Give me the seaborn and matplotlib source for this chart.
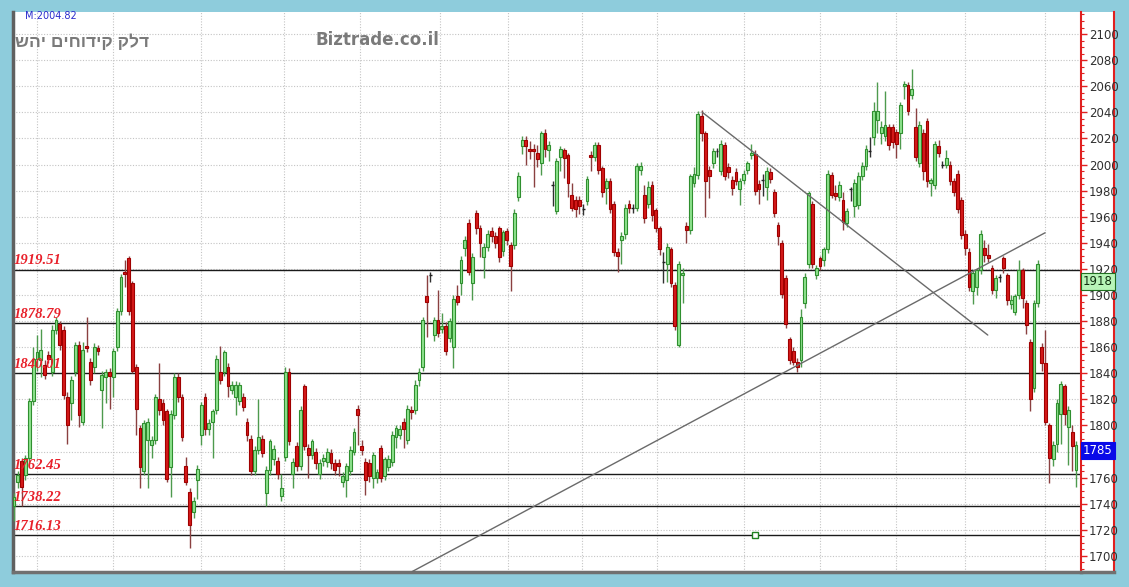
import numpy as np
import pandas as pd
import seaborn as sns
import matplotlib
matplotlib.use("Agg")
import matplotlib.pyplot as plt
from matplotlib.ticker import FixedFormatter
from matplotlib.transforms import blended_transform_factory, ScaledTranslation

# ---- daily candles (open, high, low, close) ----
opens = [1738,1757,1773,1762,1775,1819,1851,1850,1846,1854,1841,1873,1878,1873,1822,1817,1841,1862,1803,1861,
         1849,1845,1859,1827,1837,1841,1837,1860,1888,1918,1928,1909,1845,1798,1765,1789,1785,1789,1820,1817,
         1811,1768,1808,1837,1822,1769,1749,1734,1758,1793,1822,1797,1803,1812,1841,1841,1845,1827,1822,1819,
         1822,1803,1790,1765,1781,1790,1748,1766,1774,1773,1746,1776,1841,1763,1784,1769,1830,1783,1777,1780,
         1763,1773,1772,1779,1771,1771,1757,1758,1765,1780,1813,1784,1772,1771,1760,1760,1783,1761,1768,1772,
         1791,1793,1803,1789,1812,1812,1835,1845,1899,1915,1869,1881,1874,1876,1867,1860,1899,1909,1936,1955,
         1909,1963,1951,1929,1937,1949,1945,1951,1934,1949,1938,1938,1975,2014,2019,2012,2012,2009,2001,2024,
         2011,1984,1964,2006,2011,2007,1977,1973,1973,1966,1972,2007,2006,2015,1997,1982,1987,1970,1933,1942,
         1947,1970,1967,1967,1996,1977,1970,1984,1965,1951,1925,1924,1935,1908,1862,1915,1953,1950,1986,1992,
         2037,2024,1996,2001,2010,1995,2015,1998,1988,1994,1981,1988,1996,2007,2008,1985,1988,1983,1994,1979,
         1954,1940,1913,1866,1857,1849,1850,1894,1924,1970,1915,1928,1927,1935,1992,1978,1975,1973,1955,1981,
         1968,1969,1991,1999,2010,2021,2034,2024,2022,2029,2029,2025,2024,2060,2061,2053,2029,2001,2024,2033,
         1986,1984,2014,2000,2000,2000,1987,1993,1973,1947,1933,1903,1906,1919,1936,1931,1921,1904,1914,1928,
         1915,1893,1887,1900,1919,1894,1864,1829,1894,1860,1848,1800,1774,1786,1809,1830,1799,1795,1766]
highs = [1748,1765,1775,1777,1821,1860,1869,1874,1850,1857,1877,1883,1880,1876,1826,1838,1864,1865,1864,1883,
         1852,1863,1862,1842,1843,1844,1859,1890,1916,1927,1930,1911,1847,1800,1804,1806,1792,1824,1848,1820,
         1813,1812,1840,1840,1824,1776,1752,1745,1770,1818,1825,1805,1813,1854,1861,1858,1848,1834,1834,1833,
         1825,1806,1793,1784,1820,1793,1769,1790,1785,1776,1763,1845,1844,1775,1787,1815,1832,1786,1790,1783,
         1774,1778,1783,1782,1774,1774,1764,1771,1784,1798,1816,1789,1775,1774,1780,1767,1785,1776,1777,1796,
         1800,1800,1806,1816,1815,1835,1844,1883,1915,1918,1883,1904,1886,1879,1882,1900,1908,1930,1945,1958,
         1932,1965,1954,1940,1950,1952,1948,1953,1950,1951,1941,1966,1994,2022,2022,2018,2016,2015,2026,2027,
         2018,1987,2005,2014,2013,2009,1986,1976,1976,1970,1991,2010,2017,2017,1999,1990,1990,1972,1936,1948,
         1970,1973,1970,2001,2002,1984,1987,1987,1967,1953,1933,1940,1937,1910,1926,1921,1956,1993,1998,2041,
         2042,2026,1999,2013,2013,2019,2017,2001,1991,1997,1990,1996,2003,2016,2011,1988,1993,1998,1997,1981,
         1956,1942,1915,1868,1860,1852,1889,1917,1980,1972,1923,1930,1937,1996,1994,1984,1987,1979,1967,1983,
         1989,1994,2002,2015,2021,2048,2063,2033,2056,2031,2031,2027,2048,2064,2063,2073,2043,2033,2027,2036,
         1990,2018,2019,2003,2011,2003,1990,1996,1975,1950,1936,1919,1921,1950,1942,1939,1923,1915,1916,1930,
         1917,1900,1901,1927,1921,1896,1866,1896,1927,1863,1873,1802,1788,1820,1834,1832,1815,1800,1788]
lows = [1727,1752,1738,1758,1772,1816,1842,1837,1836,1848,1838,1870,1858,1820,1786,1804,1838,1799,1800,1856,
        1831,1840,1854,1798,1817,1813,1822,1857,1885,1906,1885,1840,1793,1752,1762,1752,1775,1786,1808,1800,
        1757,1745,1805,1818,1788,1754,1706,1729,1744,1785,1793,1793,1775,1809,1832,1838,1822,1824,1808,1816,
        1811,1788,1762,1762,1778,1776,1738,1762,1770,1759,1742,1773,1785,1752,1765,1766,1781,1760,1774,1767,
        1759,1769,1768,1767,1762,1761,1753,1745,1762,1777,1785,1777,1747,1757,1752,1756,1757,1758,1765,1769,
        1783,1790,1783,1786,1805,1809,1830,1842,1868,1910,1865,1868,1871,1854,1864,1844,1892,1900,1930,1915,
        1896,1947,1929,1913,1934,1941,1936,1925,1930,1938,1903,1935,1972,2008,2000,2004,1983,1998,1992,2006,
        2003,1968,1962,1995,1990,1975,1964,1960,1962,1961,1969,1995,2003,1993,1975,1970,1963,1930,1918,1924,
        1943,1963,1963,1964,1992,1955,1967,1957,1948,1931,1909,1910,1906,1873,1860,1894,1940,1947,1983,1989,
        2018,1960,1974,1997,2006,1992,1988,1990,1977,1984,1969,1985,1993,2004,1977,1970,1976,1973,1986,1960,
        1938,1898,1875,1847,1846,1841,1845,1890,1921,1921,1912,1919,1922,1932,1974,1973,1972,1950,1952,1972,
        1960,1966,1988,1996,2006,2015,2024,2016,2018,2011,2013,2005,2012,2050,2038,2050,2003,1998,1988,1983,
        1976,1981,2006,1997,1997,1984,1976,1963,1943,1931,1903,1893,1900,1916,1925,1925,1901,1898,1910,1917,
        1892,1889,1885,1897,1890,1870,1811,1826,1891,1842,1800,1756,1769,1780,1786,1800,1770,1765,1753]
closes = [1745,1762,1753,1775,1819,1851,1856,1858,1839,1851,1873,1881,1862,1823,1800,1835,1862,1808,1858,1859,
          1835,1860,1857,1839,1841,1838,1857,1888,1914,1916,1888,1842,1813,1768,1802,1803,1789,1822,1812,1804,
          1759,1809,1837,1822,1791,1757,1724,1742,1767,1816,1797,1802,1811,1851,1835,1856,1830,1831,1831,1831,
          1814,1793,1765,1781,1791,1779,1766,1788,1782,1763,1752,1841,1788,1772,1769,1812,1784,1777,1788,1771,
          1771,1775,1780,1771,1766,1769,1761,1769,1781,1795,1808,1781,1758,1761,1777,1764,1760,1774,1774,1793,
          1798,1797,1797,1813,1810,1831,1841,1881,1895,1915,1881,1871,1876,1857,1880,1897,1895,1927,1942,1918,
          1929,1951,1940,1937,1947,1945,1940,1929,1948,1942,1922,1963,1991,2019,2014,2010,2010,2004,2024,2012,
          2015,1984,2003,2012,2005,1986,1967,1966,1968,1966,1989,2006,2015,1996,1979,1987,1966,1933,1930,1945,
          1967,1967,1967,1999,1999,1959,1983,1961,1951,1935,1925,1937,1909,1876,1924,1917,1950,1991,1993,2039,
          2024,1987,1991,2010,2010,2016,1991,1994,1982,1987,1987,1993,2001,2009,1980,1981,1988,1995,1989,1963,
          1945,1901,1878,1850,1849,1845,1883,1914,1978,1924,1921,1922,1935,1993,1977,1976,1984,1956,1964,1981,
          1986,1991,1999,2012,2010,2041,2041,2029,2030,2015,2017,2016,2046,2062,2041,2058,2006,2030,1995,1987,
          1988,2016,2009,2000,2005,1987,1979,1966,1946,1936,1906,1917,1919,1947,1931,1928,1904,1913,1914,1921,
          1896,1896,1899,1919,1898,1877,1820,1894,1924,1848,1803,1775,1785,1817,1832,1809,1812,1784,1785]

# support / resistance levels with their labels
levels = [1919.51, 1878.79, 1840.01, 1762.45, 1738.22, 1716.13]
level_labels = ["1919.51", "1878.79", "1840.01", "1762.45", "1738.22", "1716.13"]

# trend lines as (candle index, price) pairs
trend_down = {"idx": [180.1, 254.9], "price": [2040.2, 1869.3]}
trend_up = {"idx": [104.2, 269.9], "price": [1688.0, 1947.7]}

# month separators (candle index)
month_marks = [6, 26, 49, 70.7, 90.6, 111.5, 129.3, 148.7, 168.3, 191.1, 211, 230.9, 249, 269.9]

y_ticks = list(range(1700, 2101, 20))
hidden_tick = 1780          # sits under the last-price box
title_he = "דלק קידוחים יהש"
site_name = "Biztrade.co.il"
ma_text = "M:2004.82"
box_green = ("1918", 1918)
box_last = ("1785", 1785.8)
marker_pt = (194, 1716.13)

df = pd.DataFrame({"open": opens, "high": highs, "low": lows, "close": closes})
df["i"] = np.arange(len(df))

sns.set_style("white")
plt.rcParams["font.family"] = ["DejaVu Sans"]

W, H = 1129, 587
fig = plt.figure(figsize=(W / 100, H / 100), dpi=100)
fig.patch.set_facecolor("#8ECCDC")

L, R, T, B = 13, 1081, 12, 572
ax = fig.add_axes([L / W, 1 - B / H, (R - L) / W, (B - T) / H])
axr = fig.add_axes([R / W, 1 - B / H, (1114 - R) / W, (B - T) / H])
axr.set_facecolor("white")
axr.set_xticks([]); axr.set_yticks([])
axr.spines["top"].set_visible(False)
axr.spines["left"].set_visible(False)
axr.spines["right"].set_color("#E02020"); axr.spines["right"].set_linewidth(1.5)
axr.spines["bottom"].set_color("#707070"); axr.spines["bottom"].set_linewidth(2.5)
ax.set_zorder(3); axr.set_zorder(1)

ax.set_facecolor("white")

# grid
ax.set_yticks(y_ticks)
ax.yaxis.set_major_formatter(FixedFormatter(["" if t == hidden_tick else str(t) for t in y_ticks]))
ax.set_yticks(np.arange(1690, 2116, 5), minor=True)
ax.set_xticks(month_marks)
ax.set_xticklabels([])
ax.tick_params(axis="x", length=0)
ax.grid(True, which="major", axis="both", color="#C4C4C4", linestyle=(0, (1, 1.5)), linewidth=0.8)
ax.set_axisbelow(True)

ax.yaxis.tick_right()
ax.tick_params(axis="y", which="major", direction="out", length=4, width=1, color="#E02020",
               labelsize=8.5, labelcolor="#303030", pad=1.5)
ax.tick_params(axis="y", which="minor", direction="out", length=2, width=0.8, color="#E02020")

ax.spines["top"].set_visible(False)
ax.spines["left"].set_color("#606060"); ax.spines["left"].set_linewidth(2.5)
ax.spines["bottom"].set_color("#707070"); ax.spines["bottom"].set_linewidth(2.5)
ax.spines["right"].set_color("#E02020"); ax.spines["right"].set_linewidth(1.5)

# level lines
for lv in levels:
    ax.axhline(lv, color="#1a1a1a", linewidth=1.0, zorder=2)
trans = blended_transform_factory(ax.transAxes, ax.transData)

# candles: wicks first, bodies on top
up = df["close"] > df["open"]
dn = df["close"] < df["open"]
flat = df["close"] == df["open"]
ax.vlines(df.loc[up, "i"], df.loc[up, "low"], df.loc[up, "high"], color="#4E9A4E", linewidth=1.0, zorder=3)
ax.vlines(df.loc[dn, "i"], df.loc[dn, "low"], df.loc[dn, "high"], color="#8A4040", linewidth=1.0, zorder=3)
ax.vlines(df.loc[flat, "i"], df.loc[flat, "low"], df.loc[flat, "high"], color="#303030", linewidth=1.0, zorder=3)

bw = 0.74
ax.bar(df.loc[up, "i"], df.loc[up, "close"] - df.loc[up, "open"], bottom=df.loc[up, "open"], width=bw,
       color="#8FE38F", edgecolor="#2F8F2F", linewidth=0.8, zorder=4)
ax.bar(df.loc[dn, "i"], df.loc[dn, "open"] - df.loc[dn, "close"], bottom=df.loc[dn, "close"], width=bw,
       color="#D41A1A", edgecolor="#A00000", linewidth=0.8, zorder=4)
ax.bar(df.loc[flat, "i"], 0.01, bottom=df.loc[flat, "close"], width=bw,
       color="#202020", edgecolor="#202020", linewidth=1.0, zorder=4)

# trend lines
sns.lineplot(x=trend_down["idx"], y=trend_down["price"], ax=ax, color="#6a6a6a", linewidth=1.0, zorder=5)
sns.lineplot(x=trend_up["idx"], y=trend_up["price"], ax=ax, color="#6a6a6a", linewidth=1.0, zorder=5)
ax.set_xlim(-0.26, 279.3)
ax.set_ylim(1687.7, 2116.9)
ax.set_xlabel(""); ax.set_ylabel("")

ax.plot([marker_pt[0]], [marker_pt[1]], marker="s", markersize=4.5, markerfacecolor="white",
        markeredgecolor="#208020", markeredgewidth=1.0, zorder=6)

# level labels
for lv, lab in zip(levels, level_labels):
    ax.text(0.001, lv + 1.6, lab, transform=trans, color="#E8202A", fontsize=10.5,
            fontweight="bold", fontstyle="italic", family=["Liberation Serif", "DejaVu Serif"],
            ha="left", va="bottom", zorder=7)

# price boxes on the scale (green one nudged down to clear the 1920 label)
for (txt, val), fc, tc, ec, dy in [(box_green, "#B8F5B8", "#103010", "#207020", -3.5),
                                   (box_last, "#0A0AE8", "white", "#0A0AE8", 0.0)]:
    tr = trans + ScaledTranslation(0, dy / 100, fig.dpi_scale_trans)
    ax.text(1.002, val, txt, transform=tr, fontsize=8.5, color=tc, ha="left", va="top",
            clip_on=False, zorder=8,
            bbox=dict(boxstyle="square,pad=0.2", facecolor=fc, edgecolor=ec, linewidth=0.8))

# header texts
fig.text(25 / W, 1 - 16 / H, ma_text, color="#2A2ACC", fontsize=7, ha="left", va="center")
fig.text(15 / W, 1 - 42 / H, title_he[::-1], color="#7A7A7A", fontsize=12.5, fontweight="bold",
         family=["Liberation Sans", "DejaVu Sans"], ha="left", va="center")
fig.text(315 / W, 1 - 40 / H, site_name, color="#7A7A7A", fontsize=12, fontweight="bold",
         ha="left", va="center")

fig.savefig("out.png", dpi=100, facecolor=fig.get_facecolor())
